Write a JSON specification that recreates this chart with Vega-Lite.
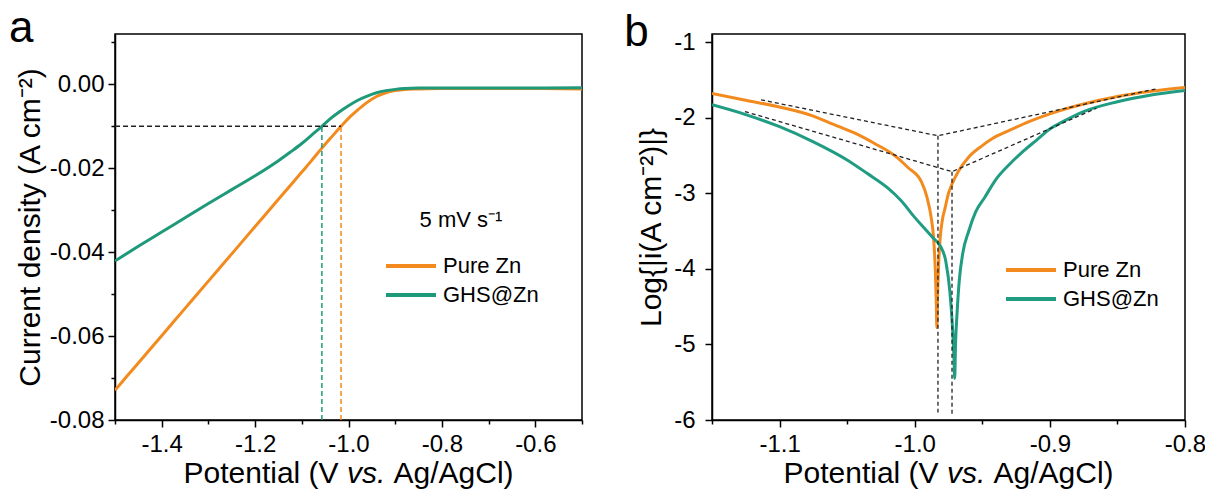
{
  "$schema": "https://vega.github.io/schema/vega-lite/v6.json",
  "background": "white",
  "padding": {"left": 8, "top": 6, "right": 5, "bottom": 0},
  "spacing": 39,
  "config": {
    "font": "Liberation Sans",
    "view": {"stroke": "black", "strokeWidth": 1.5},
    "text": {"font": "Liberation Sans", "color": "black", "clip": false},
    "axis": {
      "domainColor": "black", "domainWidth": 1.5, "tickColor": "black", "tickWidth": 1.5,
      "labelFont": "Liberation Sans", "labelFontSize": 24, "labelColor": "black",
      "titleFont": "Liberation Sans", "titleFontSize": 30, "titleFontWeight": "normal", "titleColor": "black",
      "grid": false, "labelFlush": false, "labelOverlap": false, "labelBound": false
    }
  },
  "resolve": {"scale": {"color": "independent"}, "legend": {"color": "independent"}},
  "hconcat": [
    {
      "width": 467, "height": 386,
      "layer": [
        {
          "data": {"values": [
            {"s": "Pure Zn", "V": -1.5, "j": -0.0729}, {"s": "Pure Zn", "V": -1.45, "j": -0.0664}, {"s": "Pure Zn", "V": -1.4, "j": -0.0599},
            {"s": "Pure Zn", "V": -1.35, "j": -0.0534}, {"s": "Pure Zn", "V": -1.3, "j": -0.0469}, {"s": "Pure Zn", "V": -1.25, "j": -0.0404},
            {"s": "Pure Zn", "V": -1.2, "j": -0.0339}, {"s": "Pure Zn", "V": -1.15, "j": -0.0274}, {"s": "Pure Zn", "V": -1.1, "j": -0.0209},
            {"s": "Pure Zn", "V": -1.08, "j": -0.0183}, {"s": "Pure Zn", "V": -1.057, "j": -0.0152}, {"s": "Pure Zn", "V": -1.035, "j": -0.0124},
            {"s": "Pure Zn", "V": -1.016, "j": -0.01}, {"s": "Pure Zn", "V": -1.0, "j": -0.0081}, {"s": "Pure Zn", "V": -0.98, "j": -0.0061},
            {"s": "Pure Zn", "V": -0.96, "j": -0.0043}, {"s": "Pure Zn", "V": -0.94, "j": -0.0029}, {"s": "Pure Zn", "V": -0.92, "j": -0.002},
            {"s": "Pure Zn", "V": -0.9, "j": -0.0015}, {"s": "Pure Zn", "V": -0.88, "j": -0.0012}, {"s": "Pure Zn", "V": -0.85, "j": -0.0011},
            {"s": "Pure Zn", "V": -0.8, "j": -0.001}, {"s": "Pure Zn", "V": -0.7, "j": -0.001}, {"s": "Pure Zn", "V": -0.6, "j": -0.001},
            {"s": "Pure Zn", "V": -0.5, "j": -0.0011},
            {"s": "GHS@Zn", "V": -1.5, "j": -0.0421}, {"s": "GHS@Zn", "V": -1.45, "j": -0.0386}, {"s": "GHS@Zn", "V": -1.4, "j": -0.0352},
            {"s": "GHS@Zn", "V": -1.35, "j": -0.0318}, {"s": "GHS@Zn", "V": -1.3, "j": -0.0284}, {"s": "GHS@Zn", "V": -1.25, "j": -0.0251},
            {"s": "GHS@Zn", "V": -1.2, "j": -0.0218}, {"s": "GHS@Zn", "V": -1.15, "j": -0.0182}, {"s": "GHS@Zn", "V": -1.125, "j": -0.0162},
            {"s": "GHS@Zn", "V": -1.1, "j": -0.0141}, {"s": "GHS@Zn", "V": -1.08, "j": -0.0122}, {"s": "GHS@Zn", "V": -1.057, "j": -0.01},
            {"s": "GHS@Zn", "V": -1.04, "j": -0.0083}, {"s": "GHS@Zn", "V": -1.02, "j": -0.0066}, {"s": "GHS@Zn", "V": -1.0, "j": -0.0051},
            {"s": "GHS@Zn", "V": -0.98, "j": -0.0038}, {"s": "GHS@Zn", "V": -0.96, "j": -0.0028}, {"s": "GHS@Zn", "V": -0.94, "j": -0.002},
            {"s": "GHS@Zn", "V": -0.92, "j": -0.0015}, {"s": "GHS@Zn", "V": -0.9, "j": -0.0012}, {"s": "GHS@Zn", "V": -0.88, "j": -0.001},
            {"s": "GHS@Zn", "V": -0.85, "j": -0.0009}, {"s": "GHS@Zn", "V": -0.8, "j": -0.0009}, {"s": "GHS@Zn", "V": -0.7, "j": -0.0009},
            {"s": "GHS@Zn", "V": -0.6, "j": -0.0009}, {"s": "GHS@Zn", "V": -0.5, "j": -0.0008}
          ]},
          "mark": {"type": "line", "strokeWidth": 3, "interpolate": "monotone", "clip": true},
          "encoding": {
            "x": {"field": "V", "type": "quantitative", "title": null,
              "scale": {"domain": [-1.5, -0.5], "nice": false, "zero": false},
              "axis": {"values": [-1.5, -1.4, -1.3, -1.2, -1.1, -1.0, -0.9, -0.8, -0.7, -0.6, -0.5],
                "labelExpr": "round(datum.value*10) % 2 == 0 ? replace(format(datum.value, '.1f'), '\u2212', '-') : ''",
                "tickSize": {"condition": {"test": "round(datum.value*10) % 2 == 0", "value": 7}, "value": 4},
                "labelPadding": 5}},
            "y": {"field": "j", "type": "quantitative", "title": "Current density (A cm\u207b\u00b2)",
              "scale": {"domain": [-0.08, 0.012], "nice": false, "zero": false},
              "axis": {"values": [-0.08, -0.07, -0.06, -0.05, -0.04, -0.03, -0.02, -0.01, 0, 0.01],
                "labelExpr": "round(datum.value*100) % 2 == 0 ? replace(format(datum.value, '.2f'), '\u2212', '-') : ''",
                "tickSize": {"condition": {"test": "round(datum.value*100) % 2 == 0", "value": 7}, "value": 4},
                "labelPadding": 4, "titlePadding": 4}},
            "color": {"field": "s", "type": "nominal",
              "scale": {"domain": ["Pure Zn", "GHS@Zn"], "range": ["#F28A1E", "#1E9A7A"]},
              "legend": {"orient": "none", "legendX": 269, "legendY": 176, "title": "5 mV s\u207b\u00b9",
                "titleFontSize": 22, "titleFontWeight": "normal", "titleColor": "black", "titleAnchor": "middle", "titlePadding": 23,
                "labelFontSize": 22, "labelColor": "black", "symbolType": "stroke", "symbolSize": 2500, "symbolStrokeWidth": 4,
                "labelOffset": 5, "rowPadding": 7, "clipHeight": 22, "padding": 0}}
          }
        },
        {
          "data": {"values": [{"x0": -1.5, "x1": -1.016, "j": -0.01}]},
          "mark": {"type": "rule", "color": "#222222", "strokeDash": [5, 3], "strokeWidth": 1.5},
          "encoding": {"x": {"field": "x0", "type": "quantitative"}, "x2": {"field": "x1"}, "y": {"field": "j", "type": "quantitative"}}
        },
        {
          "data": {"values": [{"V": -1.057, "lo": -0.08, "hi": -0.01}]},
          "mark": {"type": "rule", "color": "#1E9A7A", "strokeDash": [5, 3], "strokeWidth": 1.5},
          "encoding": {"x": {"field": "V", "type": "quantitative"}, "y": {"field": "lo", "type": "quantitative"}, "y2": {"field": "hi"}}
        },
        {
          "data": {"values": [{"V": -1.016, "lo": -0.08, "hi": -0.01}]},
          "mark": {"type": "rule", "color": "#F28A1E", "strokeDash": [5, 3], "strokeWidth": 1.5},
          "encoding": {"x": {"field": "V", "type": "quantitative"}, "y": {"field": "lo", "type": "quantitative"}, "y2": {"field": "hi"}}
        },
        {
          "data": {"values": [{"t": "a"}]},
          "mark": {"type": "text", "fontSize": 44, "align": "left", "baseline": "alphabetic"},
          "encoding": {"text": {"field": "t"}, "x": {"datum": -1.727}, "y": {"datum": 0.0101}}
        },
        {
          "data": {"values": [{"t": "Potential (V"}]},
          "mark": {"type": "text", "fontSize": 30, "align": "left", "baseline": "alphabetic"},
          "encoding": {"text": {"field": "t"}, "x": {"datum": -1.35332}, "y": {"datum": -0.09502}}
        },
        {
          "data": {"values": [{"t": "vs."}]},
          "mark": {"type": "text", "fontSize": 30, "fontStyle": "italic", "align": "left", "baseline": "alphabetic"},
          "encoding": {"text": {"field": "t"}, "x": {"datum": -1.00343}, "y": {"datum": -0.09502}}
        },
        {
          "data": {"values": [{"t": "Ag/AgCl)"}]},
          "mark": {"type": "text", "fontSize": 30, "align": "left", "baseline": "alphabetic"},
          "encoding": {"text": {"field": "t"}, "x": {"datum": -0.90364}, "y": {"datum": -0.09502}}
        }
      ]
    },
    {
      "width": 473, "height": 386,
      "layer": [
        {
          "data": {"values": [
            {"s": "Pure Zn", "V": -1.15, "L": -1.68}, {"s": "Pure Zn", "V": -1.125, "L": -1.77}, {"s": "Pure Zn", "V": -1.1, "L": -1.86},
            {"s": "Pure Zn", "V": -1.075, "L": -1.98}, {"s": "Pure Zn", "V": -1.06, "L": -2.09}, {"s": "Pure Zn", "V": -1.045, "L": -2.2},
            {"s": "Pure Zn", "V": -1.03, "L": -2.34}, {"s": "Pure Zn", "V": -1.015, "L": -2.5}, {"s": "Pure Zn", "V": -1.005, "L": -2.66},
            {"s": "Pure Zn", "V": -0.995, "L": -2.85}, {"s": "Pure Zn", "V": -0.991, "L": -3.05}, {"s": "Pure Zn", "V": -0.988, "L": -3.3},
            {"s": "Pure Zn", "V": -0.986, "L": -3.6}, {"s": "Pure Zn", "V": -0.9848, "L": -4.0}, {"s": "Pure Zn", "V": -0.9841, "L": -4.4},
            {"s": "Pure Zn", "V": -0.9836, "L": -4.78}, {"s": "Pure Zn", "V": -0.983, "L": -4.3}, {"s": "Pure Zn", "V": -0.9822, "L": -3.9},
            {"s": "Pure Zn", "V": -0.9812, "L": -3.6}, {"s": "Pure Zn", "V": -0.9795, "L": -3.35}, {"s": "Pure Zn", "V": -0.9776, "L": -3.2},
            {"s": "Pure Zn", "V": -0.975, "L": -3.0}, {"s": "Pure Zn", "V": -0.9724, "L": -2.88}, {"s": "Pure Zn", "V": -0.968, "L": -2.72},
            {"s": "Pure Zn", "V": -0.96, "L": -2.52}, {"s": "Pure Zn", "V": -0.95, "L": -2.37}, {"s": "Pure Zn", "V": -0.9428, "L": -2.28},
            {"s": "Pure Zn", "V": -0.93, "L": -2.17}, {"s": "Pure Zn", "V": -0.915, "L": -2.05}, {"s": "Pure Zn", "V": -0.9, "L": -1.95},
            {"s": "Pure Zn", "V": -0.875, "L": -1.82}, {"s": "Pure Zn", "V": -0.85, "L": -1.72}, {"s": "Pure Zn", "V": -0.825, "L": -1.65},
            {"s": "Pure Zn", "V": -0.8, "L": -1.6},
            {"s": "GHS@Zn", "V": -1.15, "L": -1.83}, {"s": "GHS@Zn", "V": -1.125, "L": -1.96}, {"s": "GHS@Zn", "V": -1.1, "L": -2.12},
            {"s": "GHS@Zn", "V": -1.075, "L": -2.32}, {"s": "GHS@Zn", "V": -1.05, "L": -2.56}, {"s": "GHS@Zn", "V": -1.035, "L": -2.74},
            {"s": "GHS@Zn", "V": -1.02, "L": -2.93}, {"s": "GHS@Zn", "V": -1.01, "L": -3.1}, {"s": "GHS@Zn", "V": -1.0, "L": -3.32},
            {"s": "GHS@Zn", "V": -0.992, "L": -3.48}, {"s": "GHS@Zn", "V": -0.986, "L": -3.6}, {"s": "GHS@Zn", "V": -0.981, "L": -3.7},
            {"s": "GHS@Zn", "V": -0.977, "L": -3.9}, {"s": "GHS@Zn", "V": -0.974, "L": -4.3}, {"s": "GHS@Zn", "V": -0.972, "L": -4.79},
            {"s": "GHS@Zn", "V": -0.9709, "L": -5.2}, {"s": "GHS@Zn", "V": -0.9704, "L": -5.45}, {"s": "GHS@Zn", "V": -0.9698, "L": -5.0},
            {"s": "GHS@Zn", "V": -0.9687, "L": -4.6}, {"s": "GHS@Zn", "V": -0.967, "L": -4.15}, {"s": "GHS@Zn", "V": -0.9645, "L": -3.8},
            {"s": "GHS@Zn", "V": -0.96, "L": -3.5}, {"s": "GHS@Zn", "V": -0.955, "L": -3.25}, {"s": "GHS@Zn", "V": -0.948, "L": -3.05},
            {"s": "GHS@Zn", "V": -0.94, "L": -2.82}, {"s": "GHS@Zn", "V": -0.93, "L": -2.62}, {"s": "GHS@Zn", "V": -0.92, "L": -2.45},
            {"s": "GHS@Zn", "V": -0.91, "L": -2.3}, {"s": "GHS@Zn", "V": -0.9, "L": -2.15}, {"s": "GHS@Zn", "V": -0.89, "L": -2.05},
            {"s": "GHS@Zn", "V": -0.875, "L": -1.92}, {"s": "GHS@Zn", "V": -0.85, "L": -1.79}, {"s": "GHS@Zn", "V": -0.825, "L": -1.7},
            {"s": "GHS@Zn", "V": -0.8, "L": -1.64}
          ]},
          "mark": {"type": "line", "strokeWidth": 3, "interpolate": "monotone", "clip": true},
          "encoding": {
            "x": {"field": "V", "type": "quantitative", "title": null,
              "scale": {"domain": [-1.15, -0.8], "nice": false, "zero": false},
              "axis": {"values": [-1.15, -1.1, -1.05, -1.0, -0.95, -0.9, -0.85, -0.8],
                "labelExpr": "abs(round(datum.value*100)) % 10 == 0 ? replace(format(datum.value, '.1f'), '\u2212', '-') : ''",
                "tickSize": {"condition": {"test": "abs(round(datum.value*100)) % 10 == 0", "value": 7}, "value": 4},
                "labelPadding": 5}},
            "y": {"field": "L", "type": "quantitative", "title": "Log{|i(A cm\u207b\u00b2)|}",
              "scale": {"domain": [-6, -0.894], "nice": false, "zero": false},
              "axis": {"values": [-6, -5.5, -5, -4.5, -4, -3.5, -3, -2.5, -2, -1.5, -1],
                "labelExpr": "datum.value == round(datum.value) ? replace(format(datum.value, 'd'), '\u2212', '-') : ''",
                "tickSize": {"condition": {"test": "datum.value == round(datum.value)", "value": 7}, "value": 4},
                "labelPadding": 10, "titlePadding": 7}},
            "color": {"field": "s", "type": "nominal",
              "scale": {"domain": ["Pure Zn", "GHS@Zn"], "range": ["#F28A1E", "#1F9C82"]},
              "legend": {"orient": "none", "legendX": 292, "legendY": 225, "title": null,
                "labelFontSize": 22, "labelColor": "black", "symbolType": "stroke", "symbolSize": 2500, "symbolStrokeWidth": 4,
                "labelOffset": 5, "rowPadding": 7, "clipHeight": 22, "padding": 0}}
          }
        },
        {
          "data": {"values": [
            {"seg": "p", "o": 1, "V": -1.1137, "L": -1.765}, {"seg": "p", "o": 2, "V": -0.9828, "L": -2.24}, {"seg": "p", "o": 3, "V": -0.8214, "L": -1.62},
            {"seg": "g", "o": 1, "V": -1.1256, "L": -1.92}, {"seg": "g", "o": 2, "V": -0.9724, "L": -2.715}, {"seg": "g", "o": 3, "V": -0.8655, "L": -1.876},
            {"seg": "pv", "o": 1, "V": -0.9828, "L": -2.24}, {"seg": "pv", "o": 2, "V": -0.9828, "L": -5.9},
            {"seg": "gv", "o": 1, "V": -0.9724, "L": -2.715}, {"seg": "gv", "o": 2, "V": -0.9724, "L": -5.92}
          ]},
          "mark": {"type": "line", "color": "#222222", "strokeDash": [4, 3], "strokeWidth": 1.3},
          "encoding": {"x": {"field": "V", "type": "quantitative"}, "y": {"field": "L", "type": "quantitative"},
            "detail": {"field": "seg"}, "order": {"field": "o"}}
        },
        {
          "data": {"values": [{"t": "b"}]},
          "mark": {"type": "text", "fontSize": 44, "align": "left", "baseline": "alphabetic"},
          "encoding": {"text": {"field": "t"}, "x": {"datum": -1.215}, "y": {"datum": -1.053}}
        },
        {
          "data": {"values": [{"t": "Potential (V"}]},
          "mark": {"type": "text", "fontSize": 30, "align": "left", "baseline": "alphabetic"},
          "encoding": {"text": {"field": "t"}, "x": {"datum": -1.09709}, "y": {"datum": -6.8334}}
        },
        {
          "data": {"values": [{"t": "vs."}]},
          "mark": {"type": "text", "fontSize": 30, "fontStyle": "italic", "align": "left", "baseline": "alphabetic"},
          "encoding": {"text": {"field": "t"}, "x": {"datum": -0.97618}, "y": {"datum": -6.8334}}
        },
        {
          "data": {"values": [{"t": "Ag/AgCl)"}]},
          "mark": {"type": "text", "fontSize": 30, "align": "left", "baseline": "alphabetic"},
          "encoding": {"text": {"field": "t"}, "x": {"datum": -0.9417}, "y": {"datum": -6.8334}}
        }
      ]
    }
  ]
}
